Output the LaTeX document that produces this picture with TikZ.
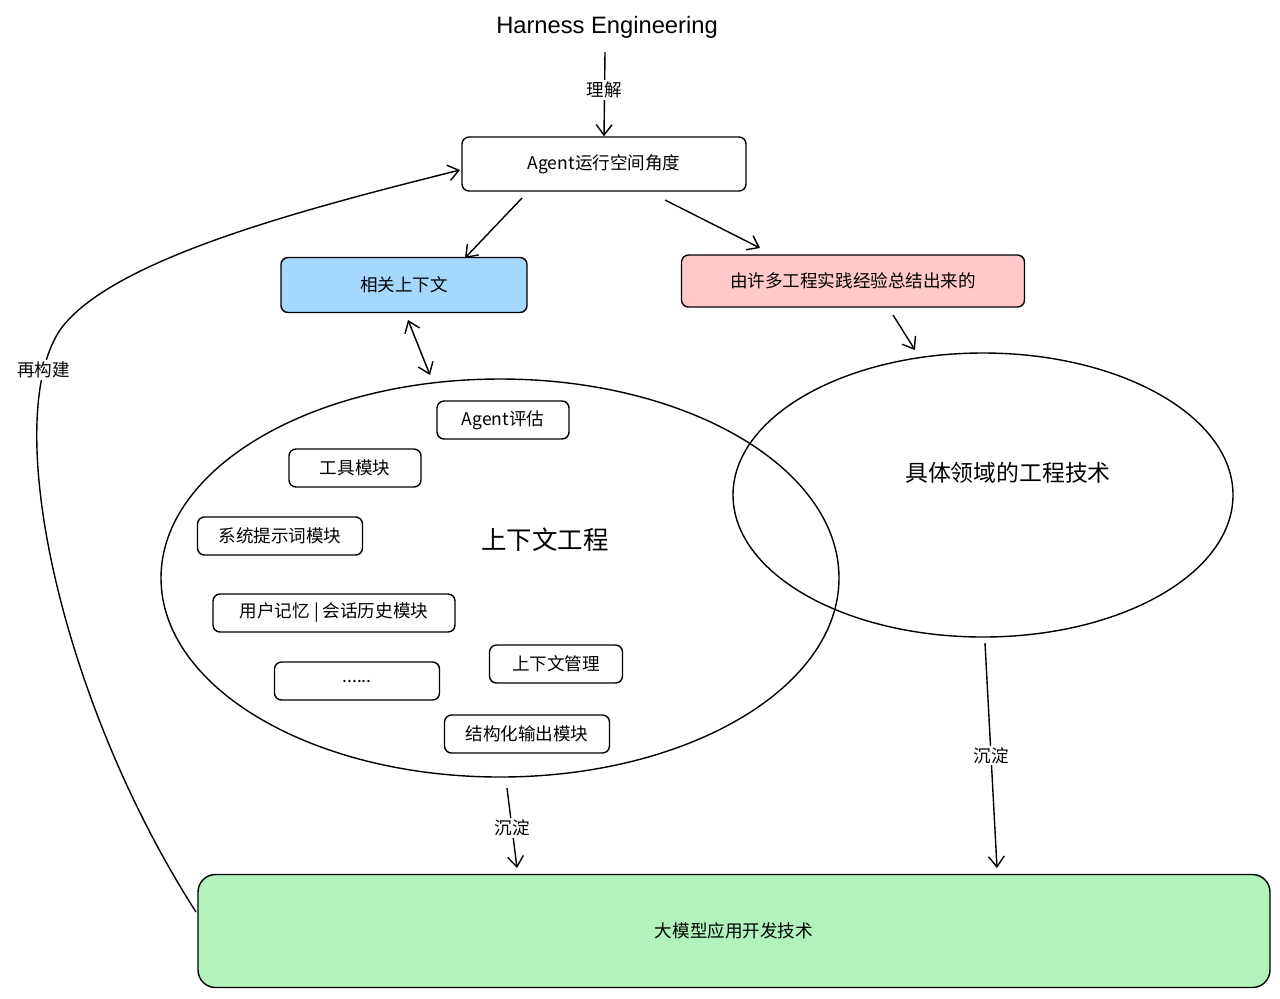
\documentclass[tikz,border=0pt]{standalone}
\usepackage{fontspec}
\setmainfont{Liberation Sans}
\newfontfamily\cjk{Noto Sans CJK SC}
\usetikzlibrary{arrows.meta}
\definecolor{skyblue}{HTML}{A5D8FF}
\definecolor{rosered}{HTML}{FFC9C9}
\definecolor{mintgreen}{HTML}{B2F2BB}
\newcommand{\sixdots}{......}
\tikzset{
  box/.style={draw, thick, rounded corners=4pt, font=\cjk\fontsize{10}{12}\selectfont, inner sep=0pt},
  arr/.style={thick, -{Straight Barb[length=6pt,width=9pt]}},
  lbl/.style={fill=white, font=\cjk\fontsize{10}{12}\selectfont, inner sep=1pt}
}
\begin{document}
\begin{tikzpicture}[x=0.02cm, y=-0.02cm]
        \useasboundingbox (0,0) rectangle (1280,998);
        % title and top box
        \node[font=\fontsize{13.5}{15}\selectfont] at (607,27) (title) {Harness Engineering};
        \node[box, minimum width=284*0.02cm, minimum height=54*0.02cm] at (604,164) (space) {Agent运行空间角度};
        \draw[arr] (605,52) -- (space.north) node[lbl, pos=.45] {理解};
        % second row
        \node[box, fill=skyblue, minimum width=246*0.02cm, minimum height=55*0.02cm] at (404,285) (ctx) {相关上下文};
        \node[box, fill=rosered, minimum width=343*0.02cm, minimum height=52*0.02cm] at (853,281) (exp) {由许多工程实践经验总结出来的};
        \coordinate (s1) at (522,198); \coordinate (e1) at (465,258);
        \coordinate (s2) at (665,200); \coordinate (e2) at (760,248);
        \draw[arr] (s1) -- (e1);
        \draw[arr] (s2) -- (e2);
        % ellipses
        \draw[thick] (500,578) ellipse [x radius=339, y radius=199] node (ce) {};
        \draw[thick] (983,495) ellipse [x radius=250, y radius=142] node (de) {};
        \node[font=\cjk\fontsize{14.5}{17}\selectfont] at (545,540) (cetext) {上下文工程};
        \node[font=\cjk\fontsize{13}{15}\selectfont] at (1008,473) (detext) {具体领域的工程技术};
        \coordinate (s3) at (408,320); \coordinate (e3) at (430,375);
        \draw[thick, {Straight Barb[length=6pt,width=9pt]}-{Straight Barb[length=6pt,width=9pt]}] (s3) -- (e3);
        \coordinate (s4) at (893,315); \coordinate (e4) at (915,350);
        \draw[arr] (s4) -- (e4);
        % modules
        \foreach \x/\y/\w/\t [count=\i] in {503/420/132/Agent评估, 355/468/132/工具模块, 280/536/165/系统提示词模块,
            334/613/242/用户记忆 | 会话历史模块, 357/681/165/\sixdots, 556/664/133/上下文管理, 527/734/165/结构化输出模块}{
          \node[box, minimum width=\w*0.02cm, minimum height=38*0.02cm] at (\x,\y) (m\i) {\t};
        }
        % bottom
        \node[box, fill=mintgreen, rounded corners=10pt, minimum width=1072*0.02cm, minimum height=113*0.02cm] at (734,931) (llm) {大模型应用开发技术};
        \coordinate (s5) at (507,788); \coordinate (e5) at (517,868);
        \coordinate (s6) at (985,643); \coordinate (e6) at (997,868);
        \draw[arr] (s5) -- (e5) node[lbl, midway] {沉淀};
        \draw[arr] (s6) -- (e6) node[lbl, pos=.5] {沉淀};
        \coordinate (s7) at (196,912); \coordinate (e7) at (460,170);
        \draw[arr] (s7) .. controls (60,700) and (0,420) .. (60,330) node[lbl, pos=.88] {再构建}
          .. controls (110,260) and (300,210) .. (e7);
\end{tikzpicture}
\end{document}
